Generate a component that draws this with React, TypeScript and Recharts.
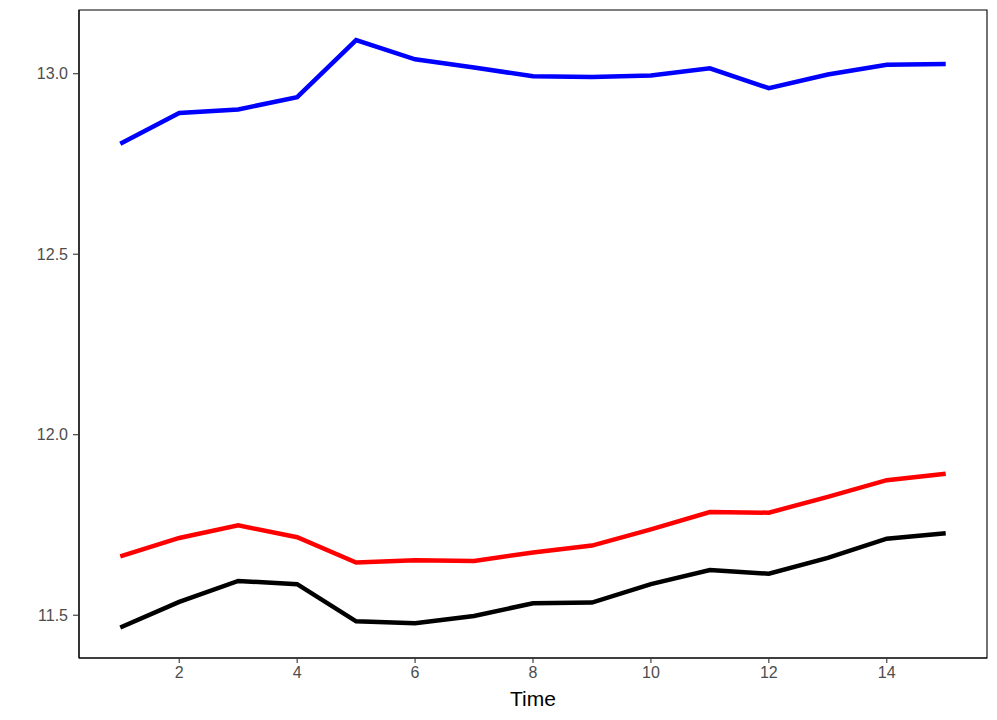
import { LineChart, Line, XAxis, YAxis, ReferenceArea } from 'recharts'

const TIME = [1, 2, 3, 4, 5, 6, 7, 8, 9, 10, 11, 12, 13, 14, 15]
const BLUE = [12.806, 12.891, 12.901, 12.935, 13.093, 13.04, 13.017, 12.993, 12.991, 12.995, 13.015, 12.96, 12.998, 13.025, 13.027]
const RED = [11.663, 11.714, 11.749, 11.716, 11.646, 11.652, 11.65, 11.674, 11.693, 11.738, 11.786, 11.784, 11.828, 11.874, 11.892]
const BLACK = [11.466, 11.537, 11.595, 11.586, 11.483, 11.478, 11.498, 11.533, 11.535, 11.586, 11.625, 11.615, 11.659, 11.712, 11.727]

const X_TICKS = [2, 4, 6, 8, 10, 12, 14]
const Y_TICKS = [11.5, 12.0, 12.5, 13.0]
const X_DOMAIN: [number, number] = [0.3, 15.7]
const Y_DOMAIN: [number, number] = [11.3815, 13.1765]

const FONT = '"Liberation Sans", Arial, Helvetica, sans-serif'

const data = TIME.map((t, i) => ({
  time: t,
  blue: BLUE[i],
  red: RED[i],
  black: BLACK[i],
}))

export default function App() {
  return (
    <div style={{ position: 'absolute', left: 0, top: 0, background: '#fff' }}>
      <LineChart
        width={997}
        height={720}
        data={data}
        margin={{ top: 10, right: 10, bottom: 0, left: 0 }}
        style={{ fontFamily: FONT }}
      >
        <XAxis
          dataKey="time"
          type="number"
          domain={X_DOMAIN}
          ticks={X_TICKS}
          allowDataOverflow
          height={62}
          tickSize={5}
          tickMargin={4}
          axisLine={{ stroke: '#000', strokeWidth: 1.1 }}
          tickLine={{ stroke: '#333', strokeWidth: 1.1 }}
          tick={{ fill: '#4d4d4d', fontSize: 16 }}
          label={{ value: 'Time', position: 'insideBottom', offset: 14, fill: '#000', fontSize: 21 }}
        />
        <YAxis
          type="number"
          domain={Y_DOMAIN}
          ticks={Y_TICKS}
          allowDataOverflow
          width={79}
          tickSize={6}
          tickMargin={5}
          tickFormatter={(v: number) => v.toFixed(1)}
          axisLine={{ stroke: '#000', strokeWidth: 1.1 }}
          tickLine={{ stroke: '#333', strokeWidth: 1.1 }}
          tick={{ fill: '#4d4d4d', fontSize: 16 }}
        />
        <ReferenceArea
          x1={X_DOMAIN[0]}
          x2={X_DOMAIN[1]}
          y1={Y_DOMAIN[0]}
          y2={Y_DOMAIN[1]}
          fill="none"
          stroke="#000"
          strokeWidth={1.1}
        />
        <Line dataKey="black" stroke="#000000" strokeWidth={4.5} dot={false} isAnimationActive={false} />
        <Line dataKey="red" stroke="#ff0000" strokeWidth={4.5} dot={false} isAnimationActive={false} />
        <Line dataKey="blue" stroke="#0000ff" strokeWidth={4.5} dot={false} isAnimationActive={false} />
      </LineChart>
    </div>
  )
}
